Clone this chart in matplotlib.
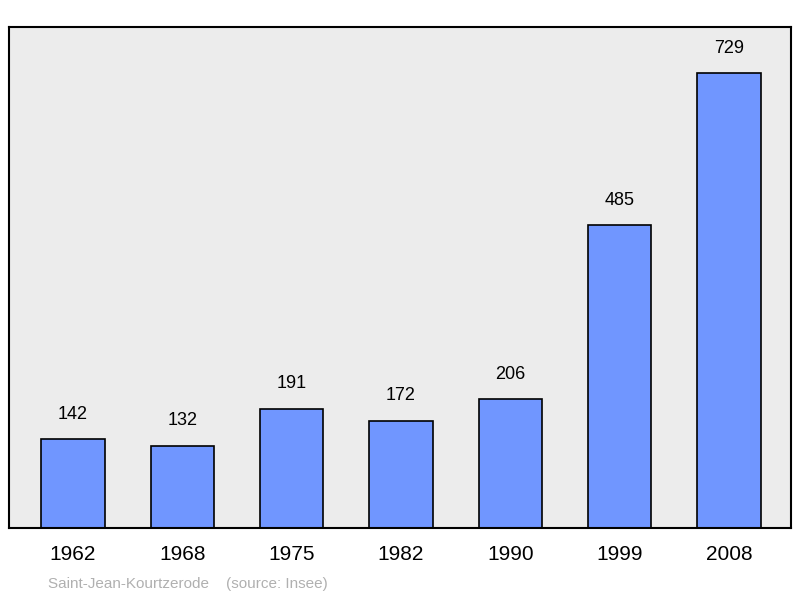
import matplotlib

matplotlib.use("Agg")

import matplotlib.pyplot as plt

YEARS = ["1962", "1968", "1975", "1982", "1990", "1999", "2008"]
POPULATION = [142, 132, 191, 172, 206, 485, 729]

plt.rcParams["font.family"] = ["Liberation Sans", "DejaVu Sans"]

fig = plt.figure(figsize=(8, 5.98), dpi=100)
ax = fig.add_axes([9 / 800, 70 / 598, 782 / 800, 501 / 598])
ax.set_facecolor("#ececec")

pos = list(range(len(YEARS)))
ax.bar(pos, POPULATION, width=0.58, color="#7096ff", edgecolor="black", linewidth=1.2, zorder=2)
for x, v in zip(pos, POPULATION):
    ax.annotate(str(v), (x, v), xytext=(0, 12), textcoords="offset points",
                ha="center", va="bottom", fontsize=13)

ax.set_xlim(-0.585, 6.567)
ax.set_ylim(0, 803)
ax.set_yticks([])
ax.set_xticks(pos)
ax.set_xticklabels(YEARS, fontsize=15)
ax.tick_params(axis="x", length=0, pad=12)
for s in ax.spines.values():
    s.set_linewidth(1.5)

fig.text(48 / 800, 1 - 584 / 598, "Saint-Jean-Kourtzerode    (source: Insee)",
         color="#b0b0b0", fontsize=11, va="center", ha="left")

fig.savefig("out.png", dpi=100)
